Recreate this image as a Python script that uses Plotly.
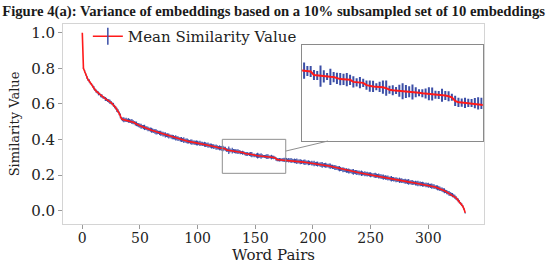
import plotly.graph_objects as go

# ---- data ----
mean_sim = [
    1.000, 0.800, 0.783, 0.765, 0.749, 0.736, 0.729, 0.718, 0.711, 0.700,
    0.691, 0.680, 0.672, 0.666, 0.659, 0.655, 0.647, 0.644, 0.637, 0.634,
    0.628, 0.625, 0.619, 0.617, 0.611, 0.607, 0.600, 0.595, 0.585, 0.578,
    0.567, 0.560, 0.547, 0.533, 0.517, 0.513, 0.511, 0.510, 0.510, 0.508,
    0.507, 0.505, 0.503, 0.501, 0.497, 0.495, 0.490, 0.488, 0.483, 0.481,
    0.477, 0.475, 0.472, 0.470, 0.468, 0.465, 0.463, 0.459, 0.457, 0.455,
    0.452, 0.451, 0.447, 0.446, 0.443, 0.441, 0.440, 0.437, 0.435, 0.433,
    0.430, 0.429, 0.426, 0.424, 0.423, 0.420, 0.419, 0.416, 0.414, 0.413,
    0.410, 0.409, 0.407, 0.405, 0.404, 0.401, 0.400, 0.398, 0.397, 0.394,
    0.393, 0.391, 0.389, 0.388, 0.387, 0.385, 0.384, 0.383, 0.382, 0.381,
    0.380, 0.379, 0.378, 0.377, 0.376, 0.374, 0.373, 0.371, 0.370, 0.368,
    0.366, 0.365, 0.363, 0.362, 0.360, 0.359, 0.357, 0.356, 0.354, 0.353,
    0.351, 0.350, 0.3496, 0.349, 0.348, 0.341, 0.340, 0.339, 0.3385, 0.338,
    0.3375, 0.337, 0.3345, 0.333, 0.3325, 0.332, 0.3315, 0.3275, 0.3265, 0.326,
    0.3255, 0.321, 0.319, 0.3185, 0.318, 0.3175, 0.317, 0.315, 0.312, 0.311,
    0.3105, 0.310, 0.309, 0.3085, 0.308, 0.3075, 0.307, 0.306, 0.305, 0.3045,
    0.304, 0.3035, 0.302, 0.3015, 0.301, 0.3005, 0.299, 0.297, 0.290, 0.287,
    0.2865, 0.286, 0.286, 0.2858, 0.2855, 0.285, 0.285, 0.2845, 0.284, 0.2835,
    0.283, 0.282, 0.2815, 0.2805, 0.280, 0.279, 0.278, 0.2772, 0.2765, 0.2755,
    0.2745, 0.274, 0.273, 0.272, 0.2712, 0.2705, 0.2695, 0.2685, 0.268, 0.267,
    0.266, 0.265, 0.2642, 0.263, 0.262, 0.261, 0.2598, 0.259, 0.258, 0.2568,
    0.2558, 0.255, 0.254, 0.2528, 0.2515, 0.250, 0.2485, 0.2465, 0.2448, 0.2432,
    0.2412, 0.2395, 0.2378, 0.236, 0.2342, 0.2325, 0.2305, 0.229, 0.2272, 0.2258,
    0.2245, 0.2232, 0.222, 0.2208, 0.2195, 0.2185, 0.2172, 0.2162, 0.215, 0.2138,
    0.2128, 0.2118, 0.2105, 0.2095, 0.2085, 0.2075, 0.2065, 0.2052, 0.2043, 0.2035,
    0.2025, 0.2015, 0.2005, 0.1995, 0.1985, 0.1975, 0.1962, 0.195, 0.1935, 0.1922,
    0.1905, 0.189, 0.1875, 0.1862, 0.1848, 0.1835, 0.182, 0.1808, 0.1795, 0.1782,
    0.177, 0.1758, 0.1745, 0.1735, 0.1722, 0.171, 0.1698, 0.1688, 0.1675, 0.1662,
    0.165, 0.1638, 0.1625, 0.1615, 0.1602, 0.159, 0.158, 0.157, 0.156, 0.155,
    0.154, 0.153, 0.152, 0.151, 0.150, 0.1488, 0.1478, 0.1465, 0.1452, 0.144,
    0.1425, 0.1412, 0.140, 0.1385, 0.137, 0.135, 0.133, 0.1308, 0.1285, 0.126,
    0.1235, 0.121, 0.1182, 0.1152, 0.112, 0.1085, 0.1045, 0.1005, 0.097, 0.094,
    0.091, 0.0875, 0.0835, 0.078, 0.072, 0.065, 0.058, 0.050, 0.042, 0.034,
    0.024, 0.009, -0.012,
]

std_sim = [
    0.000, 0.005, 0.007, 0.006, 0.008, 0.006, 0.009, 0.007, 0.006, 0.008,
    0.010, 0.007, 0.009, 0.008, 0.011, 0.007, 0.009, 0.010, 0.008, 0.007,
    0.011, 0.009, 0.008, 0.010, 0.012, 0.009, 0.008, 0.011, 0.010, 0.009,
    0.012, 0.010, 0.011, 0.013, 0.009, 0.011, 0.014, 0.010, 0.012, 0.009,
    0.013, 0.011, 0.010, 0.014, 0.012, 0.009, 0.011, 0.013, 0.010, 0.012,
    0.011, 0.014, 0.009, 0.012, 0.015, 0.010, 0.011, 0.013, 0.009, 0.012,
    0.014, 0.011, 0.010, 0.013, 0.015, 0.011, 0.009, 0.012, 0.014, 0.010,
    0.013, 0.011, 0.015, 0.010, 0.012, 0.014, 0.009, 0.011, 0.013, 0.012,
    0.010, 0.015, 0.011, 0.013, 0.009, 0.012, 0.014, 0.011, 0.016, 0.010,
    0.012, 0.014, 0.011, 0.009, 0.013, 0.015, 0.010, 0.012, 0.011, 0.014,
    0.013, 0.010, 0.015, 0.011, 0.012, 0.009, 0.014, 0.013, 0.011, 0.015,
    0.010, 0.012, 0.014, 0.011, 0.013, 0.009, 0.015, 0.012, 0.010, 0.014,
    0.012, 0.013, 0.016, 0.010, 0.011, 0.010, 0.009, 0.021, 0.012, 0.007,
    0.016, 0.010, 0.011, 0.012, 0.011, 0.013, 0.010, 0.011, 0.008, 0.011,
    0.008, 0.009, 0.011, 0.011, 0.007, 0.010, 0.013, 0.015, 0.008, 0.010,
    0.007, 0.012, 0.016, 0.013, 0.011, 0.015, 0.010, 0.007, 0.008, 0.010,
    0.013, 0.013, 0.008, 0.008, 0.013, 0.009, 0.010, 0.007, 0.010, 0.009,
    0.008, 0.010, 0.008, 0.008, 0.010, 0.012, 0.011, 0.012, 0.009, 0.013,
    0.010, 0.014, 0.011, 0.009, 0.013, 0.012, 0.015, 0.010, 0.011, 0.014,
    0.012, 0.009, 0.013, 0.015, 0.011, 0.010, 0.014, 0.012, 0.009, 0.013,
    0.011, 0.015, 0.010, 0.012, 0.014, 0.009, 0.011, 0.013, 0.016, 0.010,
    0.012, 0.014, 0.011, 0.009, 0.013, 0.015, 0.010, 0.012, 0.011, 0.014,
    0.013, 0.010, 0.012, 0.015, 0.011, 0.009, 0.014, 0.012, 0.010, 0.013,
    0.011, 0.014, 0.012, 0.009, 0.013, 0.016, 0.010, 0.012, 0.014, 0.011,
    0.013, 0.010, 0.015, 0.012, 0.009, 0.014, 0.011, 0.013, 0.010, 0.012,
    0.014, 0.011, 0.009, 0.013, 0.015, 0.012, 0.010, 0.014, 0.011, 0.013,
    0.012, 0.015, 0.010, 0.013, 0.011, 0.014, 0.009, 0.012, 0.016, 0.011,
    0.013, 0.010, 0.014, 0.012, 0.009, 0.015, 0.011, 0.013, 0.010, 0.012,
    0.014, 0.011, 0.013, 0.016, 0.010, 0.012, 0.014, 0.011, 0.009, 0.013,
    0.012, 0.015, 0.010, 0.013, 0.011, 0.014, 0.012, 0.009, 0.013, 0.011,
    0.014, 0.010, 0.012, 0.015, 0.011, 0.013, 0.009, 0.012, 0.014, 0.011,
    0.013, 0.010, 0.012, 0.011, 0.014, 0.009, 0.012, 0.010, 0.013, 0.011,
    0.010, 0.012, 0.009, 0.011, 0.010, 0.008, 0.010, 0.009, 0.007, 0.008,
    0.006, 0.005, 0.004,
]

word_pairs = list(range(len(mean_sim)))

x_ticks = [0, 50, 100, 150, 200, 250, 300]
y_ticks = [0.0, 0.2, 0.4, 0.6, 0.8, 1.0]

inset_x_range = [121.4, 176.4]
inset_y_range = [0.21, 0.401]

title_text = "Figure 4(a): Variance of embeddings based on a 10% subsampled set of 10 embeddings"
legend_name = "Mean Similarity Value"
x_title = "Word Pairs"
y_title = "Similarity Value"

RED = "#ff1a1a"
BLUE = "#3b4ea6"
SERIF = "DejaVu Serif"

fig = go.Figure()

# main series
fig.add_trace(go.Scatter(
    x=word_pairs, y=mean_sim, mode="lines",
    line=dict(color=RED, width=1.6),
    error_y=dict(type="data", array=std_sim, visible=True,
                 color=BLUE, thickness=1.2, width=0),
    showlegend=False, xaxis="x", yaxis="y", hoverinfo="skip",
))

# inset series
fig.add_trace(go.Scatter(
    x=word_pairs, y=mean_sim, mode="lines",
    line=dict(color=RED, width=2),
    error_y=dict(type="data", array=std_sim, visible=True,
                 color=BLUE, thickness=2, width=0),
    showlegend=False, xaxis="x2", yaxis="y2", hoverinfo="skip",
))

# legend entry (line with errorbar tick)
fig.add_trace(go.Scatter(
    x=[None], y=[None], mode="lines+markers", name=legend_name,
    line=dict(color=RED, width=1.6),
    marker=dict(symbol="line-ns", size=12, color=BLUE,
                line=dict(color=BLUE, width=1.5)),
    xaxis="x", yaxis="y",
))

# rectangle marking the zoomed region
fig.add_shape(type="rect", xref="x", yref="y",
              x0=inset_x_range[0], x1=inset_x_range[1],
              y0=inset_y_range[0], y1=inset_y_range[1],
              line=dict(color="#8f8f8f", width=1), layer="above")
# connector line
fig.add_shape(type="line", xref="x", yref="y",
              x0=inset_x_range[1], y0=0.335, x1=213.0, y1=0.3915,
              line=dict(color="#8f8f8f", width=1), layer="above")

hfont = dict(family=SERIF, size=15, color="#222")
tfont = dict(family=SERIF, size=14, color="#222")
vfont = dict(family=SERIF, size=13, color="#222")

fig.update_layout(
    width=552, height=267,
    margin=dict(l=63, r=68, t=24, b=43, autoexpand=False),
    paper_bgcolor="white", plot_bgcolor="white",
    title=dict(text=f"<b>{title_text}</b>", x=0.004, xanchor="left",
               y=0.958, yanchor="middle", yref="container",
               font=dict(family="Liberation Serif", size=14.7, color="#1a1a1a")),
    font=hfont,
    showlegend=True,
    legend=dict(x=0.059, y=1.02, xanchor="left", yanchor="top",
                bgcolor="rgba(0,0,0,0)", font=hfont,
                itemwidth=30, borderwidth=0),
    xaxis=dict(range=[-16.73, 348.3], tickvals=x_ticks, automargin=False,
               showgrid=False, zeroline=False, showline=True, mirror=True,
               linecolor="#d4d4d4", linewidth=1, ticks="outside", ticklen=4,
               tickcolor="#9a9a9a", tickfont=tfont, ticklabelstandoff=-3,
               title=dict(text=x_title, font=hfont, standoff=0)),
    yaxis=dict(range=[-0.0747, 1.0489], tickvals=y_ticks, tickformat=".1f",
               automargin=False,
               showgrid=False, zeroline=False, showline=True, mirror=True,
               linecolor="#d4d4d4", linewidth=1, ticks="outside", ticklen=4,
               tickcolor="#9a9a9a", tickfont=hfont,
               title=dict(text=y_title, font=vfont, standoff=8)),
    xaxis2=dict(domain=[0.568, 0.997], anchor="y2", range=inset_x_range,
                automargin=False,
                showgrid=False, zeroline=False, showticklabels=False, ticks="",
                showline=True, mirror=True, linecolor="#8a8a8a", linewidth=1),
    yaxis2=dict(domain=[0.4135, 0.8965], anchor="x2", range=inset_y_range,
                automargin=False,
                showgrid=False, zeroline=False, showticklabels=False, ticks="",
                showline=True, mirror=True, linecolor="#8a8a8a", linewidth=1),
)

fig.write_html(
    "out.html",
    config={"displayModeBar": False},
    post_script="document.body.style.margin='0px';document.body.style.padding='0px';",
)
